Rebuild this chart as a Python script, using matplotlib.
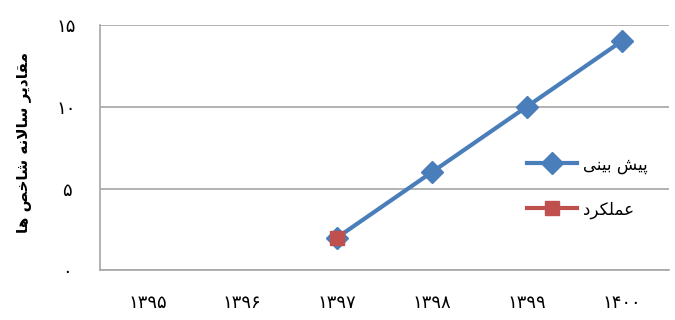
import matplotlib
matplotlib.use("Agg")
import matplotlib.pyplot as plt

# data
years = ["۱۳۹۵", "۱۳۹۶", "۱۳۹۷", "۱۳۹۸", "۱۳۹۹", "۱۴۰۰"]
forecast_idx = [2, 3, 4, 5]
forecast = [2, 6, 10, 14]
actual_idx = [2]
actual = [2]
yticks = [0, 5, 10, 15]
ytick_labels = ["۰", "۵", "۱۰", "۱۵"]

# Persian labels, pre-shaped (presentation forms, visual order)
forecast_label = "\uFBFD\uFEE8\uFBFF\uFE91 \uFEB6\uFBFF\uFB58"          # پیش بینی
actual_label = "\uFEA9\uFEAE\uFB91\uFEE0\uFEE4\uFECB"                  # عملکرد
ylabel = ("\uFE8E\uFEEB \uFEBA\uFEA7\uFE8E\uFEB7 \uFEEA\uFEE7\uFEFB\uFE8E\uFEB3 "
          "\uFEAE\uFBFE\uFEA9\uFE8E\uFED8\uFEE3")                       # مقادیر سالانه شاخص ها

plt.rcParams['font.family'] = ['DejaVu Sans']

fig = plt.figure(figsize=(6.75, 3.2), dpi=100)
ax = fig.add_axes([0.148, 0.155, 0.843, 0.767])

ax.plot(forecast_idx, forecast, color='#4A7EBB', lw=3, marker='D', ms=11,
        mec='#4A7EBB', label=forecast_label, zorder=3)
ax.plot(actual_idx, actual, color='#C0504D', lw=3, marker='s', ms=10,
        mec='#C0504D', label=actual_label, zorder=4)

ax.set_xlim(-0.5, len(years) - 0.5)
ax.set_ylim(0, 15)
ax.set_xticks(range(len(years)))
ax.set_xticklabels(years, fontsize=13)
ax.set_yticks(yticks)
ax.set_yticklabels(ytick_labels, fontsize=13, ha='center')
ax.tick_params(axis='x', length=0, pad=17)
ax.tick_params(axis='y', length=0, pad=24)

ax.yaxis.grid(True, color='#A6A6A6', lw=1.2)
ax.set_axisbelow(True)
for s in ['top', 'right']:
    ax.spines[s].set_visible(False)
for s in ['left', 'bottom']:
    ax.spines[s].set_color('#A6A6A6')
    ax.spines[s].set_linewidth(1.2)

ax.set_ylabel(ylabel, fontsize=11, fontweight='bold', va='center')
ax.yaxis.set_label_coords(-0.135, 0.52)

ax.legend(loc='center right', bbox_to_anchor=(0.99, 0.34), frameon=False,
          fontsize=12, handlelength=3.0, labelspacing=1.6, handletextpad=0.4)

fig.savefig("out.png", dpi=100)
